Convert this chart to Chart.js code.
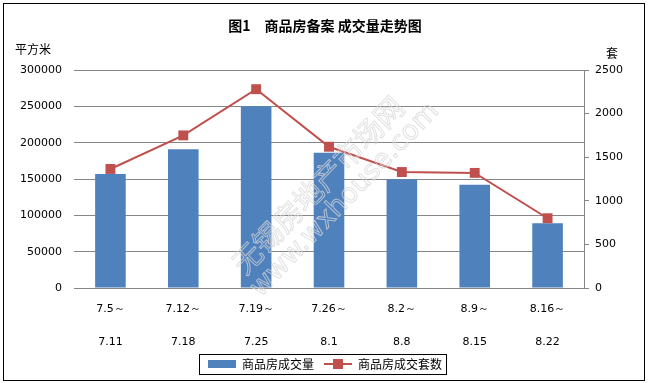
<!DOCTYPE html>
<html lang="zh">
<head>
  <meta charset="UTF-8" />
  <title>商品房备案成交量走势图</title>
  <script src="https://cdn.jsdelivr.net/npm/chart.js"></script>
  <style>
    body { margin: 0; background: #fff; }
    #wrap { width: 650px; height: 383px; }
  </style>
</head>
<body>
  <div id="wrap"><canvas id="chart"></canvas></div>

  <script>
    // 周次（两行标签）
    const weeks = [
      ['7.5～', '7.11'], ['7.12～', '7.18'], ['7.19～', '7.25'], ['7.26～', '8.1'],
      ['8.2～', '8.8'], ['8.9～', '8.15'], ['8.16～', '8.22']
    ];
    // 商品房成交量（平方米）
    const areaData = [157000, 191000, 250000, 186000, 149500, 142000, 89000];
    // 商品房成交套数（套）
    const unitData = [1365, 1750, 2280, 1620, 1330, 1320, 800];

    const BLUE = '#4F81BD';
    const RED = '#C0504D';
    const GRID = '#868686';
    const numFont = { family: 'DejaVu Sans', size: 11 };
    const plain = v => String(v);

    // legend icons
    function barIcon() {
      const c = document.createElement('canvas');
      c.width = 28; c.height = 8;
      const g = c.getContext('2d');
      g.fillStyle = BLUE;
      g.fillRect(0, 0, 28, 8);
      return c;
    }
    function lineIcon() {
      const c = document.createElement('canvas');
      c.width = 28; c.height = 10;
      const g = c.getContext('2d');
      g.fillStyle = RED;
      g.fillRect(0, 4, 28, 2);
      g.fillRect(9, 0, 10, 10);
      return c;
    }

    const extras = {
      id: 'extras',
      afterDatasetsDraw(chart) {
        const ctx = chart.ctx;
        // watermark
        ctx.save();
        ctx.strokeStyle = 'rgba(215,215,215,0.75)';
        ctx.lineWidth = 1;
        ctx.textAlign = 'center';
        ctx.textBaseline = 'middle';
        ctx.translate(318, 185);
        ctx.rotate(-46 * Math.PI / 180);
        ctx.font = '29px "Noto Sans CJK SC"';
        ctx.strokeText('无锡房地产市场网', 0, 0);
        ctx.font = '27px "DejaVu Sans"';
        ctx.strokeText('www.wxhouse.com', 8, 30);
        ctx.restore();
      },
      afterDraw(chart) {
        const ctx = chart.ctx;
        ctx.save();
        // unit labels
        ctx.fillStyle = '#000';
        ctx.font = '12px "Noto Sans CJK SC"';
        ctx.textBaseline = 'middle';
        ctx.textAlign = 'center';
        ctx.fillText('平方米', 33, 49);
        ctx.fillText('套', 612, 53);
        // legend frame
        const boxes = chart.legend.legendHitBoxes;
        if (boxes && boxes.length) {
          const l = Math.min(...boxes.map(b => b.left));
          const r = Math.max(...boxes.map(b => b.left + b.width));
          const t = boxes[0].top;
          const h = boxes[0].height;
          ctx.strokeStyle = '#000';
          ctx.lineWidth = 1;
          ctx.strokeRect(Math.round(l - 9) + 0.5, Math.round(t - 4) + 0.5, Math.round(r - l + 13), Math.round(h + 8));
        }
        // outer border
        ctx.strokeStyle = '#000';
        ctx.strokeRect(3.5, 3.5, 641, 377);
        ctx.restore();
      }
    };

    const ctx = document.getElementById('chart').getContext('2d');

    new Chart(ctx, {
      data: {
        labels: weeks,
        datasets: [
          {
            type: 'line',
            label: '商品房成交套数',
            data: unitData,
            yAxisID: 'y1',
            borderColor: RED,
            backgroundColor: RED,
            borderWidth: 2,
            pointStyle: 'rect',
            pointRadius: 7,
            pointBorderWidth: 0,
            pointBackgroundColor: RED,
            tension: 0,
            order: 0
          },
          {
            type: 'bar',
            label: '商品房成交量',
            data: areaData,
            yAxisID: 'y',
            backgroundColor: BLUE,
            categoryPercentage: 1,
            barPercentage: 0.42,
            order: 1
          }
        ]
      },
      options: {
        responsive: true,
        maintainAspectRatio: false,
        animation: false,
        layout: { padding: { left: 0, right: 0, top: 0, bottom: 3 } },
        plugins: {
          title: {
            display: true,
            text: '图1　商品房备案 成交量走势图',
            color: '#000',
            font: { family: 'Noto Sans CJK SC', size: 14, weight: 'bold', lineHeight: 1.2 },
            padding: { top: 17, bottom: 36.2 }
          },
          legend: {
            position: 'bottom',
            labels: {
              usePointStyle: true,
              pointStyleWidth: 28,
              padding: 10,
              color: '#000',
              font: { family: 'Noto Sans CJK SC', size: 12 },
              generateLabels: () => [
                { text: '商品房成交量', pointStyle: barIcon(), fillStyle: BLUE, strokeStyle: BLUE, lineWidth: 0, hidden: false, datasetIndex: 1 },
                { text: '商品房成交套数', pointStyle: lineIcon(), fillStyle: RED, strokeStyle: RED, lineWidth: 0, hidden: false, datasetIndex: 0 }
              ]
            }
          },
          tooltip: { enabled: false }
        },
        scales: {
          x: {
            offset: true,
            grid: { display: false, drawTicks: false, tickLength: 0 },
            border: { display: true, color: GRID, width: 1 },
            ticks: {
              color: '#000',
              font: { family: 'DejaVu Sans', size: 11, lineHeight: 3 },
              padding: 4.5,
              maxRotation: 0,
              autoSkip: false
            },
            afterFit(scale) { scale.height = 60; }
          },
          y: {
            position: 'left',
            min: 0,
            max: 300000,
            grid: { color: GRID, drawTicks: false },
            border: { display: false },
            ticks: { stepSize: 50000, color: '#000', font: numFont, padding: 12, callback: plain },
            afterFit(scale) { scale.width = 74; }
          },
          y1: {
            position: 'right',
            min: 0,
            max: 2500,
            grid: { drawOnChartArea: false, color: GRID, tickLength: 5 },
            border: { display: true, color: GRID, width: 1 },
            ticks: { stepSize: 500, color: '#000', font: numFont, padding: 6, callback: plain },
            afterFit(scale) { scale.width = 66; }
          }
        }
      },
      plugins: [extras]
    });
  </script>
</body>
</html>
